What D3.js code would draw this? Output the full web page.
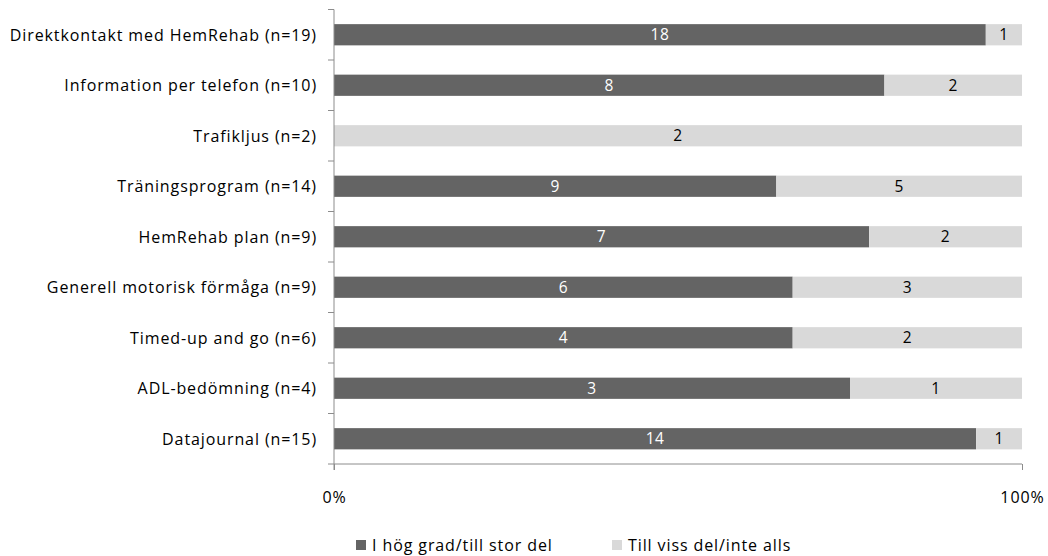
<!DOCTYPE html>
<html>
<head>
<meta charset="utf-8">
<script src="https://cdn.jsdelivr.net/npm/d3@7"></script>
<style>
  html, body { margin: 0; padding: 0; background: #fff; }
  svg text { font-family: "Open Sans", Lato, sans-serif; }
</style>
</head>
<body>
<svg id="chart" width="1048" height="556"></svg>
<script>
// Categories (top to bottom) and counts for each answer group
const categories = [
  "Direktkontakt med HemRehab (n=19)",
  "Information per telefon (n=10)",
  "Trafikljus (n=2)",
  "Träningsprogram (n=14)",
  "HemRehab plan (n=9)",
  "Generell motorisk förmåga (n=9)",
  "Timed-up and go (n=6)",
  "ADL-bedömning (n=4)",
  "Datajournal (n=15)"
];
const highDegree = [18, 8, 0, 9, 7, 6, 4, 3, 14];
const someDegree = [1, 2, 2, 5, 2, 3, 2, 1, 1];
const seriesNames = ["I hög grad/till stor del", "Till viss del/inte alls"];
const seriesColors = ["#646464", "#d9d9d9"];
const labelColors = ["#ffffff", "#000000"];
const xTicks = [0, 1];

const svg = d3.select("#chart");
const plotLeft = 334, plotRight = 1022, plotTop = 9.5, plotBottom = 464;

const x = d3.scaleLinear().domain([0, 1]).range([plotLeft, plotRight]);
const y = d3.scaleBand().domain(categories).range([plotTop, plotBottom]).paddingInner(0.58).paddingOuter(0.29);
const yTicks = d3.scaleBand().domain(categories).range([plotTop, plotBottom]);

const rows = categories.map((c, i) => {
  const total = highDegree[i] + someDegree[i];
  return { cat: c, vals: [highDegree[i], someDegree[i]], total };
});

const stackData = rows.map(r => {
  let acc = 0;
  return r.vals.map((v, k) => {
    const seg = { cat: r.cat, k, v, x0: acc / r.total, x1: (acc + v) / r.total };
    acc += v;
    return seg;
  });
}).flat().filter(d => d.v > 0);

// Bars
svg.append("g").selectAll("rect").data(stackData).join("rect")
  .attr("x", d => x(d.x0))
  .attr("width", d => x(d.x1) - x(d.x0))
  .attr("y", d => y(d.cat))
  .attr("height", y.bandwidth())
  .attr("fill", d => seriesColors[d.k]);

// Value labels
svg.append("g").selectAll("text").data(stackData).join("text")
  .attr("x", d => (x(d.x0) + x(d.x1)) / 2)
  .attr("y", d => y(d.cat) + y.bandwidth() / 2)
  .attr("dy", "0.36em")
  .attr("text-anchor", "middle")
  .attr("font-size", 15.5)
  .attr("letter-spacing", 0.5)
  .attr("fill", d => labelColors[d.k])
  .text(d => d.v);

// Vertical category axis with ticks between bands
const axisColor = "#8c8c8c";
const gy = svg.append("g");
gy.append("line").attr("x1", plotLeft).attr("x2", plotLeft).attr("y1", plotTop).attr("y2", plotBottom + 6)
  .attr("stroke", axisColor).attr("stroke-width", 1);
const bounds = categories.map(c => yTicks(c)).concat([plotBottom]);
gy.selectAll("line.tick").data(bounds).join("line").attr("class", "tick")
  .attr("x1", plotLeft - 6).attr("x2", plotLeft).attr("y1", d => d).attr("y2", d => d)
  .attr("stroke", axisColor);
gy.selectAll("text").data(categories).join("text")
  .attr("x", plotLeft - 17)
  .attr("y", d => y(d) + y.bandwidth() / 2)
  .attr("dy", "0.36em")
  .attr("text-anchor", "end")
  .attr("font-size", 16)
  .attr("letter-spacing", 0.9)
  .attr("fill", "#000")
  .text(d => d);

// Horizontal percentage axis
const xAxis = d3.axisBottom(x).tickValues(xTicks).tickFormat(d3.format(".0%")).tickSize(6).tickPadding(22);
const gx = svg.append("g").attr("transform", `translate(0,${plotBottom})`).call(xAxis);
gx.select(".domain").attr("stroke", axisColor).attr("d", `M${plotLeft},0H${plotRight}`);
gx.selectAll(".tick line").attr("stroke", axisColor);
gx.selectAll(".tick text").attr("font-size", 16).attr("letter-spacing", 0.9).attr("fill", "#000")
  .attr("font-family", "'Open Sans', Lato, sans-serif");

// Legend
const legendX = [356, 612];
const lg = svg.append("g").selectAll("g").data(seriesNames).join("g")
  .attr("transform", (d, i) => `translate(${legendX[i]},545)`);
lg.append("rect").attr("x", 0).attr("y", -5).attr("width", 10).attr("height", 10)
  .attr("fill", (d, i) => seriesColors[i]);
lg.append("text").attr("x", 16).attr("y", 0).attr("dy", "0.36em")
  .attr("font-size", 16).attr("letter-spacing", 0.9).attr("fill", "#000").text(d => d);
</script>
</body>
</html>
